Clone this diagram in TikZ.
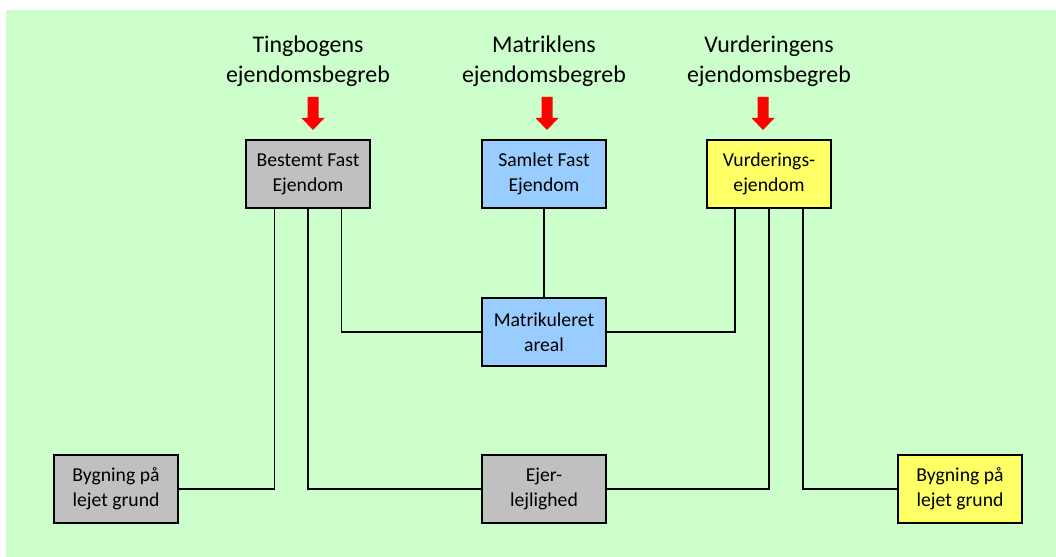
\documentclass[tikz,border=0pt]{standalone}
\usepackage{fontspec}
\setmainfont{Carlito}
\definecolor{bggreen}{HTML}{CCFFCC}
\definecolor{boxgray}{HTML}{C0C0C0}
\definecolor{boxblue}{HTML}{99CCFF}
\definecolor{boxyellow}{HTML}{FFFF66}
\tikzset{
  downarrow/.pic={\fill[red] (-5.5,97) -- (5.5,97) -- (5.5,118) -- (11.5,118) -- (0,130) -- (-11.5,118) -- (-5.5,118) -- cycle;}
}
\begin{document}
\begin{tikzpicture}[x=0.025cm, y=-0.025cm,
    box/.style={draw, line width=1.4pt, minimum width=3.1cm, minimum height=1.7cm, align=center, inner sep=0pt, font=\fontsize{14}{17.7}\selectfont},
    head/.style={align=center, font=\fontsize{17}{21}\selectfont},
    link/.style={line width=1pt}]
      \useasboundingbox (0,0) rectangle (1056,557);
      \fill[bggreen] (6,10) rectangle (1056,557);

      \node[head] (h1) at (308,61) {Tingbogens\\ejendomsbegreb};
      \node[head] (h2) at (544,61) {Matriklens\\ejendomsbegreb};
      \node[head] (h3) at (769,61) {Vurderingens\\ejendomsbegreb};
      \pic at (313,0) {downarrow};
      \pic at (547,0) {downarrow};
      \pic at (763,0) {downarrow};

      \node[box, fill=boxgray] (best) at (308,174) {Bestemt Fast\\Ejendom};
      \node[box, fill=boxblue] (saml) at (544,174) {Samlet Fast\\Ejendom};
      \node[box, fill=boxyellow] (vurd) at (769,174) {Vurderings-\\ejendom};
      \node[box, fill=boxblue] (matr) at (544,332) {Matrikuleret\\areal};
      \node[box, fill=boxgray] (lbyg) at (116,489) {Bygning på\\lejet grund};
      \node[box, fill=boxgray] (ejer) at (544,489) {Ejer-\\lejlighed};
      \node[box, fill=boxyellow] (rbyg) at (960,489) {Bygning på\\lejet grund};

      \draw[link] ([xshift=-0.83cm]best.south) |- (lbyg.east);
      \draw[link] (best.south) |- (ejer.west);
      \draw[link] ([xshift=0.83cm]best.south) |- (matr.west);
      \draw[link] (saml) -- (matr);
      \draw[link] ([xshift=-0.85cm]vurd.south) |- (matr.east);
      \draw[link] (vurd.south) |- (ejer.east);
      \draw[link] ([xshift=0.85cm]vurd.south) |- (rbyg.west);
    \end{tikzpicture}
\end{document}
